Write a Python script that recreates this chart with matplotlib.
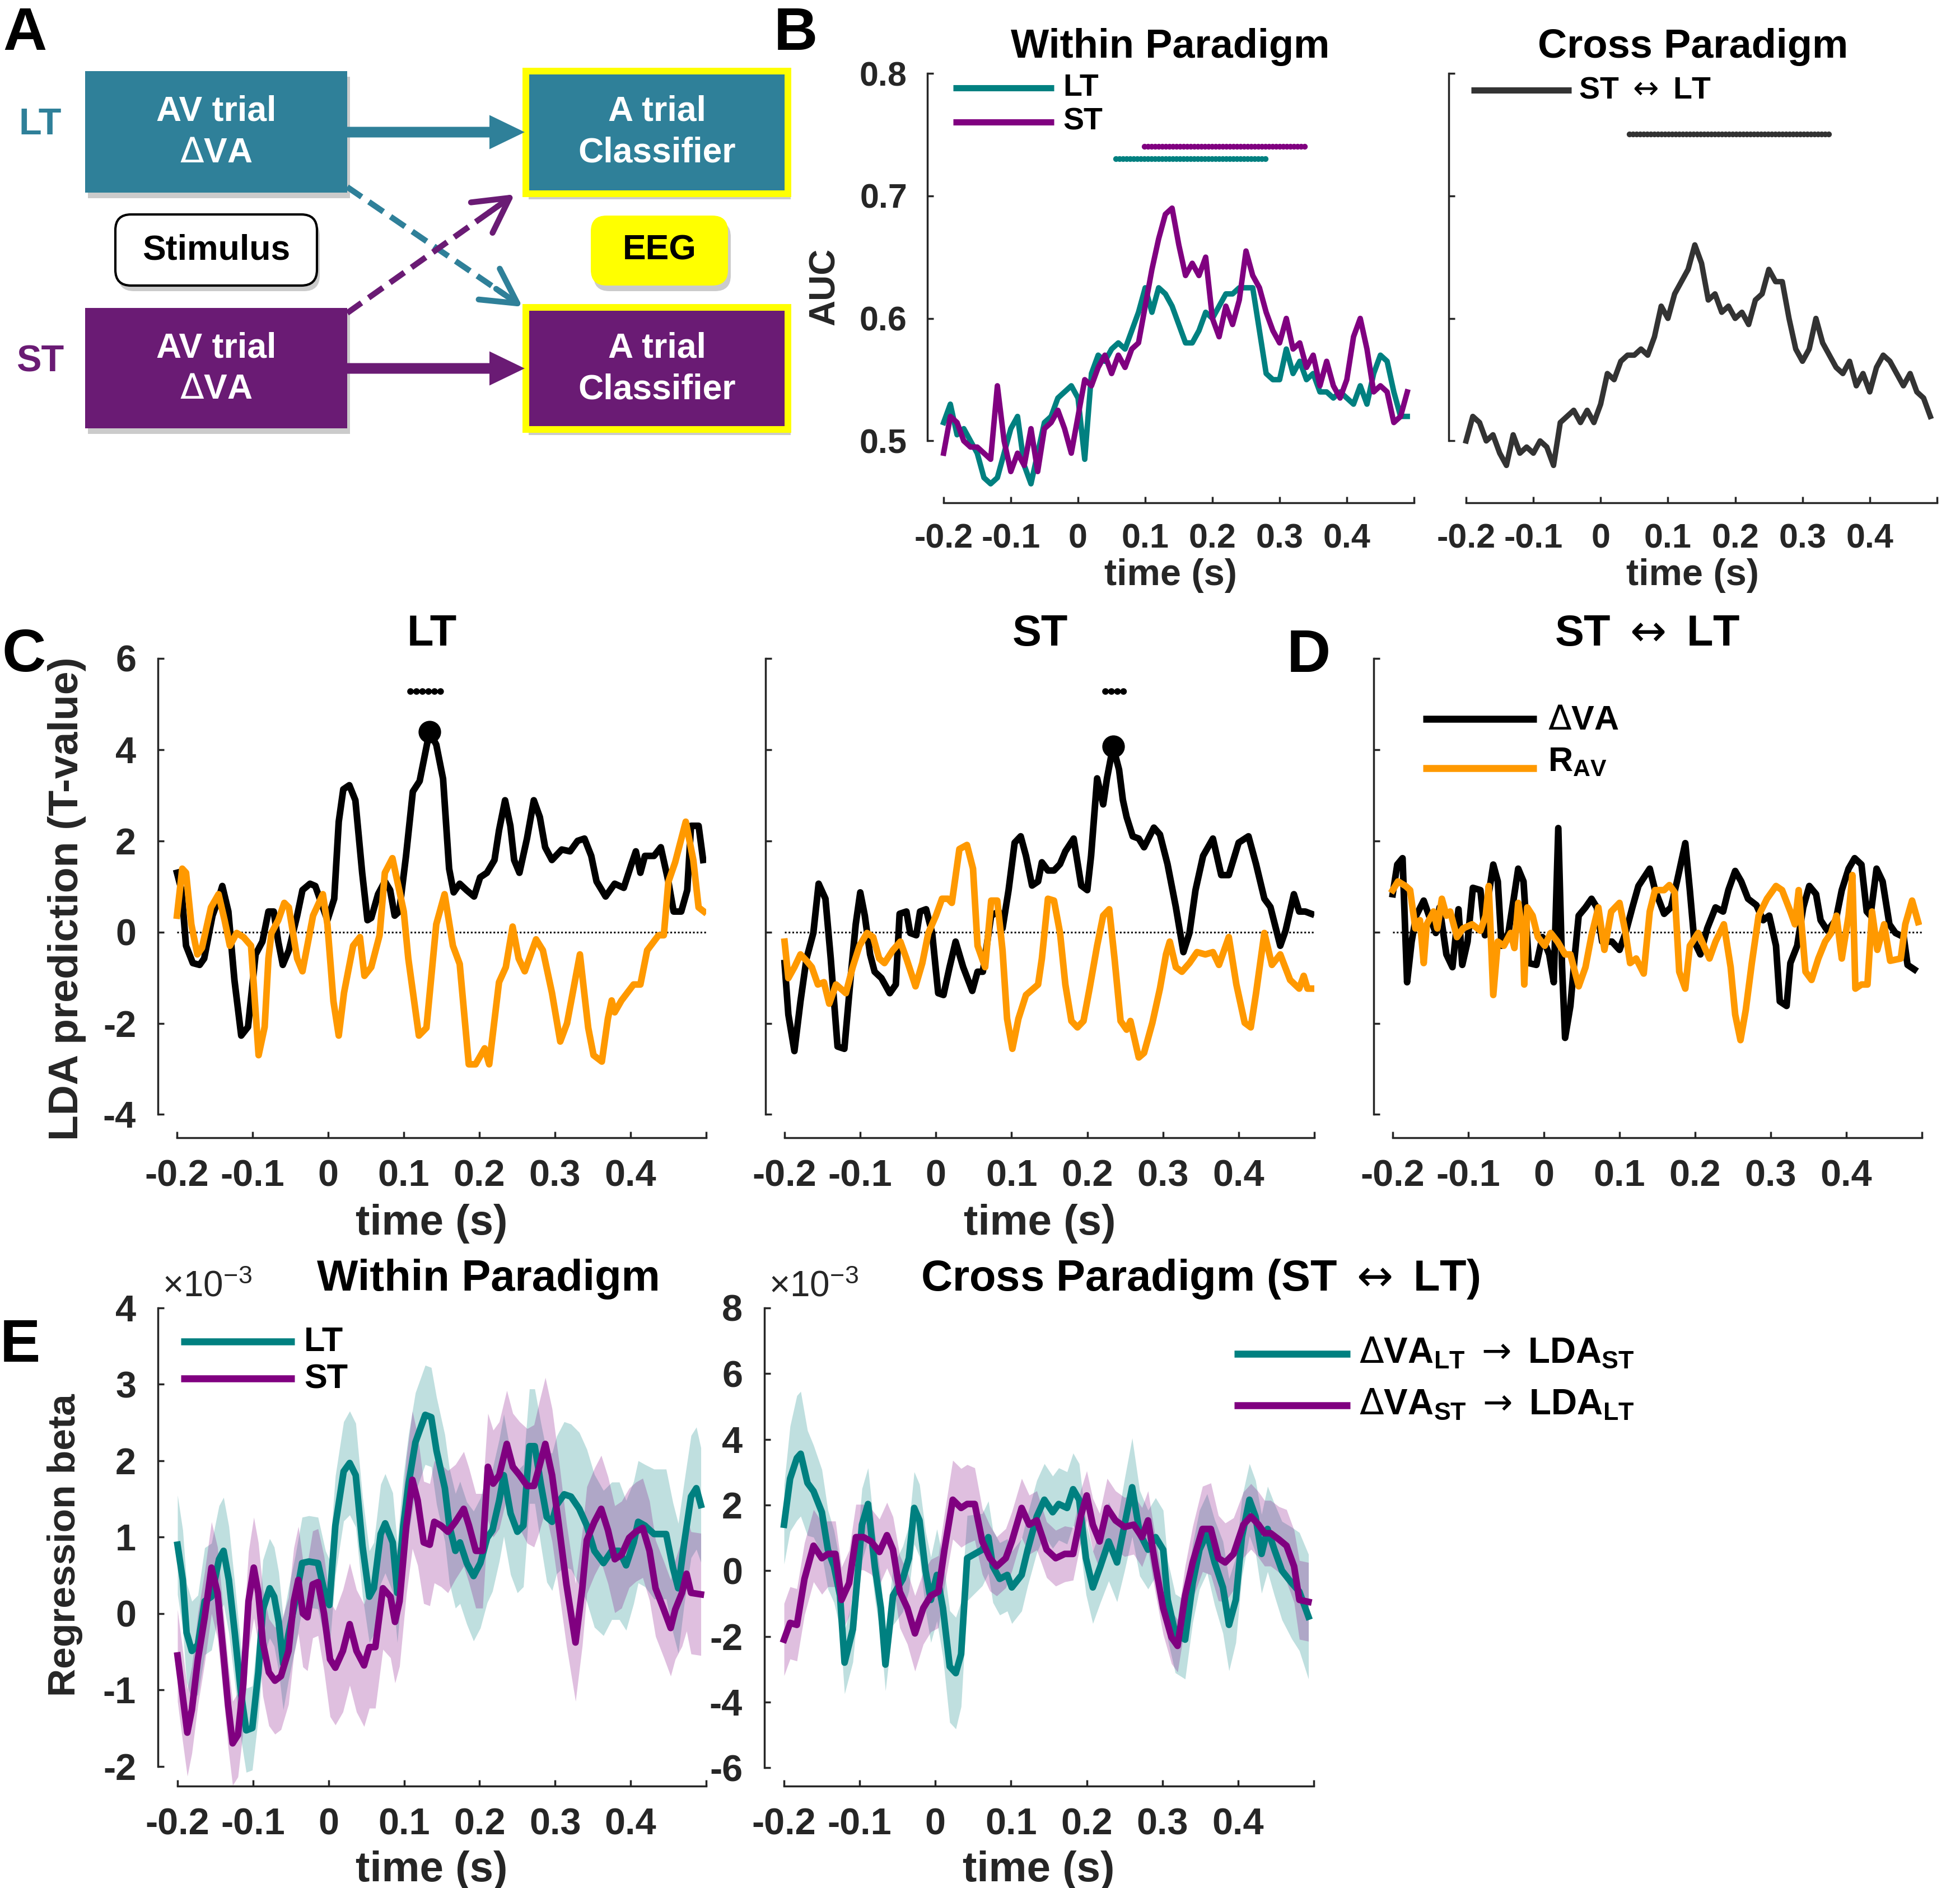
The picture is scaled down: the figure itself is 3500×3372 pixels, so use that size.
import numpy as np
import matplotlib
matplotlib.use("Agg")
import matplotlib.pyplot as plt
from matplotlib.patches import Rectangle, FancyBboxPatch, FancyArrow

plt.rcParams['font.family'] = ['Liberation Sans', 'DejaVu Sans']
plt.rcParams['font.weight'] = 'bold'
plt.rcParams['mathtext.fontset'] = 'custom'
plt.rcParams['mathtext.rm'] = 'Liberation Sans:weight=normal'
plt.rcParams['mathtext.bf'] = 'Liberation Sans:weight=bold'
plt.rcParams['mathtext.it'] = 'Liberation Sans:italic'
plt.rcParams['mathtext.sf'] = 'DejaVu Sans:weight=normal'

# ---------------- data ----------------
# panel B: AUC, sampled every 10 ms from -0.2 s
b_time = np.round(np.arange(-0.2, 0.495, 0.01), 3)
b_auc_lt = [0.515, 0.53, 0.505, 0.51, 0.50, 0.49, 0.47, 0.465, 0.47, 0.49,
            0.51, 0.52, 0.48, 0.465, 0.49, 0.515, 0.52, 0.535, 0.54, 0.545,
            0.535, 0.485, 0.555, 0.57, 0.565, 0.575, 0.58, 0.575, 0.59, 0.605,
            0.625, 0.605, 0.625, 0.62, 0.61, 0.595, 0.58, 0.58, 0.59, 0.605,
            0.60, 0.61, 0.62, 0.62, 0.625, 0.625, 0.625, 0.59, 0.555, 0.55,
            0.55, 0.575, 0.555, 0.565, 0.55, 0.555, 0.54, 0.54, 0.535, 0.54,
            0.535, 0.53, 0.545, 0.53, 0.555, 0.57, 0.565, 0.54, 0.52, 0.52]
b_auc_st = [0.49, 0.52, 0.515, 0.50, 0.495, 0.495, 0.49, 0.485, 0.545, 0.50,
            0.475, 0.49, 0.48, 0.51, 0.475, 0.51, 0.515, 0.525, 0.51, 0.49,
            0.52, 0.55, 0.545, 0.56, 0.57, 0.555, 0.57, 0.56, 0.575, 0.58,
            0.61, 0.64, 0.665, 0.685, 0.69, 0.66, 0.635, 0.645, 0.635, 0.65,
            0.60, 0.585, 0.61, 0.595, 0.615, 0.655, 0.635, 0.625, 0.605, 0.59,
            0.58, 0.60, 0.575, 0.58, 0.56, 0.57, 0.545, 0.565, 0.545, 0.535,
            0.55, 0.585, 0.60, 0.575, 0.54, 0.545, 0.54, 0.515, 0.52, 0.54]
b_auc_cross = [0.50, 0.52, 0.515, 0.50, 0.505, 0.49, 0.48, 0.505, 0.49, 0.495,
               0.49, 0.50, 0.495, 0.48, 0.515, 0.52, 0.525, 0.515, 0.525, 0.515,
               0.53, 0.555, 0.55, 0.565, 0.57, 0.57, 0.575, 0.57, 0.585, 0.61,
               0.60, 0.62, 0.63, 0.64, 0.66, 0.645, 0.615, 0.62, 0.605, 0.61,
               0.60, 0.605, 0.595, 0.615, 0.62, 0.64, 0.63, 0.63, 0.60, 0.575,
               0.565, 0.575, 0.60, 0.58, 0.57, 0.56, 0.555, 0.565, 0.545, 0.555,
               0.54, 0.56, 0.57, 0.565, 0.555, 0.545, 0.555, 0.54, 0.535, 0.52]
b_sig_lt = (0.057, 0.283, 0.73)
b_sig_st = (0.099, 0.342, 0.74)
b_sig_cross = (0.043, 0.340, 0.75)

# panels C, D: LDA prediction (T-value), (time, value)
c_lt_dva = [(-0.200, 1.30), (-0.194, 0.92), (-0.188, -0.30), (-0.179, -0.68), (-0.170, -0.72),
            (-0.164, -0.58), (-0.153, 0.36), (-0.145, 0.73), (-0.140, 1.01), (-0.132, 0.45),
            (-0.124, -1.05), (-0.115, -2.27), (-0.106, -2.08), (-0.096, -0.49), (-0.087, -0.21),
            (-0.079, 0.45), (-0.072, 0.45), (-0.066, -0.21), (-0.060, -0.72), (-0.052, -0.40),
            (-0.041, 0.36), (-0.034, 0.92), (-0.024, 1.06), (-0.017, 1.01), (-0.007, 0.54),
            (-0.001, 0.26), (0.008, 0.73), (0.014, 2.42), (0.020, 3.13), (0.028, 3.22),
            (0.036, 2.89), (0.045, 1.30), (0.052, 0.26), (0.057, 0.31), (0.066, 0.83),
            (0.075, 1.11), (0.082, 0.92), (0.088, 0.36), (0.094, 0.45), (0.103, 1.67),
            (0.112, 3.08), (0.121, 3.31), (0.134, 4.39), (0.143, 4.11), (0.152, 3.36),
            (0.160, 1.39), (0.166, 0.87), (0.174, 1.06), (0.183, 0.92), (0.193, 0.78),
            (0.201, 1.20), (0.210, 1.30), (0.220, 1.58), (0.226, 2.23), (0.234, 2.89),
            (0.241, 2.33), (0.246, 1.58), (0.253, 1.30), (0.263, 2.05), (0.272, 2.89),
            (0.280, 2.52), (0.287, 1.86), (0.296, 1.58), (0.309, 1.81), (0.320, 1.77),
            (0.330, 2.00), (0.339, 2.05), (0.348, 1.67), (0.355, 1.11), (0.367, 0.78),
            (0.379, 1.06), (0.391, 0.97), (0.401, 1.48), (0.407, 1.77), (0.413, 1.30),
            (0.419, 1.67), (0.431, 1.67), (0.440, 1.86), (0.450, 1.11), (0.457, 0.45),
            (0.467, 0.45), (0.475, 0.92), (0.480, 2.33), (0.490, 2.33), (0.496, 1.58)]
c_lt_rav = [(-0.200, 0.36), (-0.193, 1.39), (-0.188, 1.30), (-0.181, 0.17), (-0.173, -0.49),
            (-0.167, -0.35), (-0.155, 0.54), (-0.145, 0.83), (-0.137, 0.26), (-0.130, -0.30),
            (-0.121, -0.02), (-0.112, -0.11), (-0.102, -0.30), (-0.092, -2.70), (-0.084, -2.08),
            (-0.079, -0.58), (-0.075, -0.02), (-0.066, 0.26), (-0.058, 0.64), (-0.052, 0.54),
            (-0.041, -0.58), (-0.034, -0.86), (-0.020, 0.36), (-0.007, 0.83), (-0.001, 0.17),
            (0.007, -1.52), (0.014, -2.27), (0.021, -1.33), (0.033, -0.30), (0.042, -0.11),
            (0.048, -0.96), (0.057, -0.77), (0.068, -0.07), (0.075, 1.30), (0.085, 1.62),
            (0.100, 0.45), (0.106, -0.58), (0.120, -2.27), (0.130, -2.10), (0.143, 0.17),
            (0.154, 0.83), (0.165, -0.30), (0.174, -0.70), (0.186, -2.90), (0.195, -2.90),
            (0.207, -2.55), (0.213, -2.90), (0.226, -1.10), (0.235, -0.77), (0.244, 0.12),
            (0.252, -0.58), (0.260, -0.86), (0.275, -0.16), (0.284, -0.40), (0.296, -1.33),
            (0.307, -2.40), (0.316, -2.00), (0.333, -0.49), (0.344, -2.10), (0.351, -2.70),
            (0.362, -2.84), (0.370, -1.90), (0.375, -1.50), (0.379, -1.76), (0.388, -1.50),
            (0.404, -1.15), (0.413, -1.15), (0.422, -0.40), (0.437, -0.07), (0.444, -0.07),
            (0.450, 1.10), (0.459, 1.53), (0.473, 2.42), (0.483, 1.58), (0.490, 0.54),
            (0.497, 0.45)]
c_st_dva = [(-0.200, -0.68), (-0.195, -1.81), (-0.187, -2.61), (-0.179, -1.52), (-0.171, -0.58),
            (-0.162, -0.02), (-0.155, 1.06), (-0.146, 0.73), (-0.139, -0.58), (-0.130, -2.51),
            (-0.121, -2.56), (-0.112, -0.87), (-0.106, 0.17), (-0.100, 0.87), (-0.094, 0.36),
            (-0.087, -0.49), (-0.081, -0.87), (-0.072, -1.01), (-0.061, -1.34), (-0.053, -1.15),
            (-0.048, 0.40), (-0.039, 0.45), (-0.034, -0.02), (-0.026, -0.07), (-0.021, 0.45),
            (-0.013, 0.50), (-0.005, -0.02), (0.003, -1.34), (0.010, -1.38), (0.018, -0.77),
            (0.026, -0.21), (0.036, -0.77), (0.048, -1.29), (0.055, -0.87), (0.062, -0.87),
            (0.073, 0.36), (0.083, 0.45), (0.088, 0.08), (0.096, 0.92), (0.104, 1.96),
            (0.112, 2.10), (0.119, 1.67), (0.127, 1.02), (0.135, 1.11), (0.140, 1.53),
            (0.148, 1.35), (0.156, 1.35), (0.164, 1.49), (0.171, 1.77), (0.182, 2.05),
            (0.192, 1.02), (0.200, 0.92), (0.205, 1.67), (0.213, 3.37), (0.221, 2.80),
            (0.226, 3.37), (0.234, 4.07), (0.242, 3.56), (0.247, 2.90), (0.252, 2.52),
            (0.260, 2.10), (0.268, 2.05), (0.275, 1.86), (0.288, 2.29), (0.296, 2.14),
            (0.306, 1.49), (0.317, 0.55), (0.327, -0.44), (0.335, -0.02), (0.343, 0.92),
            (0.353, 1.67), (0.366, 2.05), (0.377, 1.25), (0.387, 1.25), (0.400, 1.96),
            (0.413, 2.10), (0.423, 1.49), (0.434, 0.73), (0.442, 0.55), (0.455, -0.30),
            (0.462, 0.03), (0.473, 0.83), (0.480, 0.45), (0.488, 0.45), (0.496, 0.40)]
c_st_rav = [(-0.200, -0.21), (-0.195, -1.01), (-0.187, -0.77), (-0.179, -0.49), (-0.171, -0.63),
            (-0.164, -0.77), (-0.156, -1.15), (-0.148, -1.10), (-0.141, -1.57), (-0.132, -1.15),
            (-0.119, -1.34), (-0.110, -0.77), (-0.101, -0.30), (-0.091, -0.02), (-0.083, -0.11),
            (-0.075, -0.58), (-0.068, -0.68), (-0.057, -0.40), (-0.047, -0.21), (-0.039, -0.58),
            (-0.027, -1.19), (-0.018, -0.68), (-0.010, -0.02), (0.000, 0.36), (0.008, 0.73),
            (0.016, 0.73), (0.021, 0.64), (0.031, 1.82), (0.041, 1.91), (0.049, 1.39),
            (0.055, -0.30), (0.065, -0.77), (0.073, 0.69), (0.081, 0.69), (0.088, -0.40),
            (0.094, -1.90), (0.101, -2.56), (0.109, -1.90), (0.119, -1.38), (0.135, -1.15),
            (0.140, -0.58), (0.148, 0.73), (0.156, 0.69), (0.164, -0.02), (0.171, -1.15),
            (0.179, -1.95), (0.187, -2.09), (0.195, -1.95), (0.203, -1.24), (0.213, -0.30),
            (0.221, 0.36), (0.229, 0.50), (0.236, -0.58), (0.244, -1.95), (0.252, -2.14),
            (0.257, -1.95), (0.268, -2.75), (0.275, -2.65), (0.286, -1.99), (0.296, -1.24),
            (0.304, -0.49), (0.309, -0.21), (0.317, -0.77), (0.325, -0.87), (0.335, -0.68),
            (0.345, -0.44), (0.356, -0.49), (0.366, -0.44), (0.374, -0.72), (0.387, -0.11),
            (0.397, -1.15), (0.408, -1.99), (0.416, -2.09), (0.423, -1.34), (0.434, -0.02),
            (0.444, -0.72), (0.455, -0.49), (0.468, -1.05), (0.480, -1.24), (0.486, -0.96),
            (0.491, -1.24), (0.498, -1.24)]
d_dva = [(-0.200, 0.83), (-0.194, 1.48), (-0.187, 1.62), (-0.181, -1.10), (-0.175, -0.21),
         (-0.169, 0.36), (-0.159, 0.69), (-0.152, 0.36), (-0.143, -0.02), (-0.138, 0.54),
         (-0.129, -0.49), (-0.121, -0.77), (-0.113, 0.50), (-0.108, -0.72), (-0.101, -0.21),
         (-0.094, 0.97), (-0.084, 0.92), (-0.078, -0.07), (-0.073, 0.83), (-0.067, 1.48),
         (-0.061, 1.11), (-0.056, -0.30), (-0.047, -0.02), (-0.040, 0.73), (-0.034, 1.39),
         (-0.027, 1.11), (-0.020, -0.68), (-0.010, -0.72), (-0.002, -0.11), (0.007, -0.49),
         (0.013, -1.10), (0.019, 2.28), (0.024, -0.77), (0.028, -2.32), (0.035, -1.62),
         (0.041, -0.49), (0.046, 0.36), (0.055, 0.54), (0.063, 0.73), (0.070, 0.54),
         (0.077, -0.21), (0.090, -0.21), (0.100, -0.39), (0.108, -0.02), (0.117, 0.54),
         (0.125, 1.01), (0.140, 1.39), (0.147, 0.92), (0.159, 0.40), (0.168, 0.54),
         (0.176, 1.11), (0.187, 1.95), (0.193, 0.92), (0.199, -0.21), (0.207, -0.49),
         (0.216, 0.08), (0.227, 0.54), (0.237, 0.45), (0.244, 0.92), (0.253, 1.34),
         (0.261, 1.11), (0.270, 0.73), (0.281, 0.59), (0.290, 0.26), (0.298, 0.36),
         (0.307, -0.30), (0.312, -1.52), (0.321, -1.62), (0.326, -0.68), (0.335, -0.30),
         (0.343, 0.54), (0.351, 1.01), (0.360, 0.83), (0.366, 0.26), (0.375, 0.03),
         (0.386, 0.26), (0.394, 0.92), (0.403, 1.39), (0.411, 1.62), (0.420, 1.48),
         (0.427, 0.45), (0.432, 0.36), (0.440, 1.39), (0.448, 1.11), (0.457, 0.17),
         (0.465, -0.02), (0.476, -0.11), (0.481, -0.72), (0.490, -0.82)]
d_rav = [(-0.200, 0.92), (-0.193, 1.11), (-0.183, 1.01), (-0.177, 0.92), (-0.170, 0.08),
         (-0.164, 0.26), (-0.159, -0.68), (-0.155, 0.17), (-0.146, 0.45), (-0.141, 0.08),
         (-0.135, 0.73), (-0.129, 0.36), (-0.124, 0.45), (-0.115, -0.11), (-0.107, 0.08),
         (-0.095, 0.17), (-0.084, 0.03), (-0.077, 0.36), (-0.073, 1.01), (-0.067, -1.38),
         (-0.061, -0.21), (-0.053, -0.30), (-0.044, -0.02), (-0.039, -0.35), (-0.034, 0.64),
         (-0.028, -0.02), (-0.026, -1.15), (-0.022, 0.54), (-0.015, 0.36), (-0.008, -0.11),
         (0.001, -0.30), (0.009, -0.02), (0.018, -0.21), (0.028, -0.49), (0.035, -0.49),
         (0.046, -1.19), (0.055, -0.77), (0.063, -0.07), (0.072, 0.54), (0.080, -0.39),
         (0.089, 0.45), (0.100, 0.64), (0.108, -0.02), (0.114, -0.68), (0.122, -0.58),
         (0.132, -0.91), (0.140, 0.45), (0.147, 0.92), (0.159, 0.92), (0.166, 1.03),
         (0.173, 0.87), (0.179, -0.87), (0.187, -1.24), (0.193, -0.30), (0.204, -0.02),
         (0.219, -0.58), (0.227, -0.21), (0.238, 0.17), (0.247, -0.77), (0.253, -1.81),
         (0.260, -2.37), (0.267, -1.71), (0.275, -0.68), (0.284, 0.36), (0.295, 0.73),
         (0.307, 1.01), (0.315, 0.92), (0.326, 0.45), (0.332, 0.17), (0.337, 0.92),
         (0.346, -0.87), (0.354, -1.05), (0.363, -0.58), (0.372, -0.21), (0.380, -0.02),
         (0.387, 0.36), (0.394, -0.58), (0.403, 0.36), (0.408, 1.25), (0.412, -1.24),
         (0.420, -1.15), (0.428, -1.15), (0.434, 0.45), (0.441, -0.39), (0.450, 0.17),
         (0.458, -0.63), (0.472, -0.58), (0.478, 0.17), (0.487, 0.69), (0.495, 0.22)]
c_sig_lt = (0.109, 0.151, 5.27)
c_sig_st = (0.224, 0.250, 5.27)

# panel E: regression beta (x1e-3), (time, mean, sem)
e_within_lt = [(-0.200, 0.90, 0.65), (-0.193, 0.44, 0.65), (-0.188, -0.25, 0.65), (-0.181, -0.49, 0.65),
               (-0.173, -0.41, 0.65), (-0.164, 0.16, 0.7), (-0.155, 0.22, 0.7), (-0.145, 0.71, 0.7),
               (-0.139, 0.82, 0.7), (-0.132, 0.44, 0.7), (-0.124, -0.27, 0.65), (-0.116, -1.04, 0.6),
               (-0.109, -1.53, 0.55), (-0.101, -1.50, 0.55), (-0.093, -0.77, 0.6), (-0.087, 0.05, 0.65),
               (-0.078, 0.33, 0.65), (-0.072, 0.22, 0.65), (-0.066, -0.11, 0.65), (-0.060, -0.66, 0.6),
               (-0.053, -0.27, 0.6), (-0.044, 0.16, 0.6), (-0.035, 0.66, 0.6), (-0.026, 0.68, 0.6),
               (-0.014, 0.66, 0.6), (-0.004, 0.22, 0.6), (0.001, 0.11, 0.6), (0.009, 1.15, 0.65),
               (0.020, 1.86, 0.65), (0.028, 1.97, 0.68), (0.036, 1.81, 0.68), (0.045, 0.88, 0.65),
               (0.054, 0.22, 0.6), (0.060, 0.33, 0.6), (0.069, 1.04, 0.65), (0.075, 1.18, 0.65),
               (0.085, 0.93, 0.65), (0.091, 0.27, 0.65), (0.099, 1.15, 0.65), (0.106, 1.70, 0.65),
               (0.115, 2.24, 0.65), (0.128, 2.60, 0.65), (0.136, 2.57, 0.65), (0.143, 2.13, 0.7),
               (0.154, 1.64, 0.7), (0.160, 1.15, 0.75), (0.168, 0.82, 0.75), (0.174, 0.93, 0.8),
               (0.183, 0.66, 0.8), (0.192, 0.49, 0.85), (0.201, 0.66, 0.85), (0.210, 0.99, 0.85),
               (0.217, 1.09, 0.8), (0.226, 1.48, 0.8), (0.232, 1.81, 0.8), (0.241, 1.31, 0.8),
               (0.250, 1.07, 0.8), (0.258, 1.15, 0.8), (0.266, 2.19, 0.75), (0.273, 2.19, 0.75),
               (0.281, 1.70, 0.8), (0.289, 1.26, 0.85), (0.296, 1.20, 0.9), (0.302, 1.42, 0.9),
               (0.312, 1.56, 0.95), (0.321, 1.53, 0.95), (0.332, 1.37, 1.0), (0.342, 1.15, 1.0),
               (0.352, 0.82, 1.0), (0.364, 0.66, 0.95), (0.375, 0.82, 0.9), (0.385, 0.82, 0.9),
               (0.394, 0.63, 0.85), (0.404, 0.93, 0.8), (0.410, 1.20, 0.8), (0.419, 1.15, 0.8),
               (0.431, 1.04, 0.85), (0.447, 1.04, 0.85), (0.456, 0.60, 0.85), (0.463, 0.33, 0.85),
               (0.471, 0.93, 0.8), (0.480, 1.53, 0.8), (0.487, 1.64, 0.8), (0.493, 1.42, 0.75)]
e_within_st = [(-0.200, -0.55, 0.6), (-0.193, -1.09, 0.6), (-0.187, -1.56, 0.57), (-0.181, -1.26, 0.57),
               (-0.173, -0.60, 0.6), (-0.164, -0.05, 0.6), (-0.155, 0.60, 0.6), (-0.147, 0.27, 0.6),
               (-0.139, -0.55, 0.55), (-0.133, -1.20, 0.55), (-0.127, -1.70, 0.55), (-0.120, -1.59, 0.55),
               (-0.113, -0.93, 0.6), (-0.106, 0.16, 0.65), (-0.099, 0.60, 0.66), (-0.093, 0.27, 0.66),
               (-0.087, -0.38, 0.7), (-0.079, -0.77, 0.7), (-0.071, -0.88, 0.7), (-0.063, -0.82, 0.7),
               (-0.053, -0.49, 0.7), (-0.046, 0.16, 0.7), (-0.040, 0.44, 0.7), (-0.034, 0.00, 0.7),
               (-0.028, -0.05, 0.7), (-0.021, 0.38, 0.7), (-0.014, 0.41, 0.7), (-0.006, 0.00, 0.75),
               (0.002, -0.60, 0.75), (0.009, -0.71, 0.75), (0.019, -0.49, 0.8), (0.028, -0.14, 0.8),
               (0.037, -0.49, 0.8), (0.047, -0.68, 0.8), (0.054, -0.44, 0.8), (0.062, -0.44, 0.8),
               (0.072, 0.33, 0.8), (0.082, 0.22, 0.8), (0.088, -0.11, 0.8), (0.094, 0.16, 0.85),
               (0.103, 1.15, 0.9), (0.111, 1.75, 0.9), (0.118, 1.48, 0.85), (0.126, 0.93, 0.8),
               (0.134, 0.90, 0.8), (0.140, 1.20, 0.8), (0.149, 1.15, 0.8), (0.158, 1.07, 0.8),
               (0.168, 1.20, 0.75), (0.179, 1.37, 0.75), (0.186, 1.15, 0.75), (0.195, 0.82, 0.75),
               (0.204, 0.82, 0.75), (0.211, 1.92, 0.7), (0.218, 1.70, 0.7), (0.226, 1.81, 0.7),
               (0.236, 2.22, 0.7), (0.244, 1.92, 0.7), (0.253, 1.81, 0.7), (0.263, 1.67, 0.75),
               (0.272, 1.67, 0.8), (0.279, 1.92, 0.85), (0.287, 2.22, 0.87), (0.296, 1.81, 0.87),
               (0.305, 1.15, 0.85), (0.315, 0.38, 0.8), (0.327, -0.38, 0.77), (0.336, 0.33, 0.75),
               (0.342, 0.96, 0.7), (0.352, 1.20, 0.7), (0.361, 1.37, 0.7), (0.370, 1.09, 0.7),
               (0.379, 0.71, 0.7), (0.388, 0.77, 0.7), (0.398, 0.99, 0.65), (0.407, 1.07, 0.65),
               (0.416, 1.12, 0.65), (0.425, 0.82, 0.65), (0.433, 0.33, 0.63), (0.444, 0.05, 0.63),
               (0.453, -0.19, 0.63), (0.459, 0.05, 0.65), (0.468, 0.27, 0.7), (0.474, 0.52, 0.75),
               (0.480, 0.27, 0.8), (0.493, 0.25, 0.8)]
e_cross_lt = [(-0.200, 1.40, 1.2), (-0.192, 2.80, 1.6), (-0.183, 3.43, 1.9), (-0.178, 3.56, 1.9),
              (-0.169, 2.67, 1.6), (-0.161, 2.42, 1.4), (-0.150, 1.78, 1.3), (-0.142, 0.64, 1.2),
              (-0.134, 0.13, 1.1), (-0.126, -0.76, 1.0), (-0.120, -2.80, 0.95), (-0.109, -1.78, 1.0),
              (-0.097, 1.40, 1.1), (-0.089, 2.03, 1.1), (-0.080, 0.13, 1.0), (-0.072, -1.14, 0.9),
              (-0.066, -2.86, 0.8), (-0.056, -0.76, 0.9), (-0.043, -0.25, 1.0), (-0.035, 0.38, 1.0),
              (-0.028, 1.91, 1.1), (-0.021, 1.53, 1.1), (-0.013, 0.00, 1.2), (-0.006, -0.89, 1.3),
              (0.002, -0.13, 1.4), (0.010, -1.14, 1.5), (0.019, -2.92, 1.7), (0.027, -3.12, 1.7),
              (0.034, -2.54, 1.6), (0.042, 0.38, 1.3), (0.052, 0.51, 1.2), (0.062, 0.64, 1.1),
              (0.070, 1.02, 1.1), (0.076, 0.13, 1.1), (0.085, -0.25, 1.1), (0.095, -0.13, 1.1),
              (0.101, -0.51, 1.1), (0.114, -0.13, 1.1), (0.122, 0.64, 1.1), (0.134, 1.65, 1.1),
              (0.144, 2.16, 1.1), (0.155, 1.78, 1.1), (0.163, 2.03, 1.1), (0.174, 1.91, 1.1),
              (0.182, 2.48, 1.1), (0.190, 2.16, 1.1), (0.199, 0.38, 1.1), (0.208, -0.51, 1.1),
              (0.218, 0.13, 1.1), (0.229, 0.89, 1.2), (0.240, 0.25, 1.2), (0.250, 1.40, 1.4),
              (0.260, 2.54, 1.5), (0.270, 1.14, 1.3), (0.281, 0.64, 1.2), (0.291, 1.02, 1.2),
              (0.301, 0.64, 1.2), (0.307, -0.89, 1.2), (0.317, -1.91, 1.2), (0.330, -2.10, 1.2),
              (0.340, -0.38, 1.2), (0.349, 0.64, 1.2), (0.359, 1.14, 1.2), (0.369, 0.25, 1.3),
              (0.380, -0.51, 1.4), (0.388, -1.65, 1.4), (0.397, -0.89, 1.3), (0.405, 1.02, 1.2),
              (0.415, 2.16, 1.1), (0.423, 1.65, 1.1), (0.431, 0.51, 1.2), (0.439, 1.27, 1.3),
              (0.448, 0.64, 1.4), (0.458, 0.00, 1.5), (0.471, -0.38, 1.7), (0.481, -0.64, 1.8),
              (0.493, -1.40, 1.9)]
e_cross_st = [(-0.200, -2.10, 1.1), (-0.192, -1.59, 1.1), (-0.183, -1.65, 1.1), (-0.173, -0.25, 1.1),
              (-0.161, 0.76, 1.1), (-0.150, 0.38, 1.1), (-0.142, 0.51, 1.0), (-0.132, 0.51, 1.0),
              (-0.124, -0.89, 1.0), (-0.114, -0.38, 1.0), (-0.105, 1.02, 1.0), (-0.095, 1.02, 1.0),
              (-0.085, 0.89, 1.0), (-0.074, 0.57, 1.0), (-0.064, 1.08, 1.0), (-0.056, 0.64, 1.0),
              (-0.047, -0.64, 1.1), (-0.037, -1.14, 1.1), (-0.027, -1.91, 1.15), (-0.016, -1.14, 1.1),
              (-0.006, -0.76, 1.1), (0.004, -0.64, 1.1), (0.012, 0.64, 1.1), (0.023, 2.16, 1.2),
              (0.034, 1.91, 1.2), (0.042, 2.03, 1.2), (0.052, 2.03, 1.1), (0.062, 0.89, 1.0),
              (0.072, 0.38, 1.0), (0.081, 0.13, 0.9), (0.093, 0.38, 0.9), (0.101, 0.89, 0.9),
              (0.114, 1.91, 0.9), (0.124, 1.40, 0.9), (0.134, 1.53, 0.9), (0.147, 0.64, 0.85),
              (0.159, 0.38, 0.85), (0.171, 0.51, 0.85), (0.182, 0.51, 0.8), (0.192, 1.65, 0.8),
              (0.200, 2.29, 0.75), (0.208, 1.40, 0.8), (0.217, 0.89, 0.85), (0.227, 1.91, 0.9),
              (0.238, 1.53, 0.9), (0.250, 1.33, 0.9), (0.262, 1.40, 0.9), (0.273, 1.02, 0.9),
              (0.281, 1.53, 0.9), (0.291, 0.13, 0.85), (0.301, -1.14, 0.8), (0.312, -2.03, 0.8),
              (0.320, -2.29, 0.8), (0.330, -0.76, 0.9), (0.340, 0.25, 1.1), (0.353, 1.27, 1.3),
              (0.364, 1.27, 1.4), (0.374, 0.38, 1.3), (0.383, 0.25, 1.2), (0.394, 0.51, 1.1),
              (0.407, 1.40, 1.0), (0.417, 1.65, 1.0), (0.427, 1.40, 1.0), (0.435, 1.14, 1.0),
              (0.443, 1.14, 1.0), (0.454, 0.95, 1.0), (0.464, 0.76, 1.1), (0.474, 0.13, 1.1),
              (0.481, -0.89, 1.2), (0.493, -0.95, 1.2)]

x_ticks = [-0.2, -0.1, 0, 0.1, 0.2, 0.3, 0.4, 0.5]
x_ticklabels = ['-0.2', '-0.1', '0', '0.1', '0.2', '0.3', '0.4', '']

# ---------------- style ----------------
TEAL_A = '#2F8099'
PURPLE_A = '#6A1B74'
TEAL = '#008080'
PURPLE = '#800080'
ORANGE = '#FF9900'
DARK = '#333333'
AXC = '#262626'
ARROW_LR = r'$\mathsf{\leftrightarrow}$'
ARROW_R = r'$\mathsf{\rightarrow}$'
DELTA = r'$\mathsf{\Delta}$'

W, H = 3500, 3372
fig = plt.figure(figsize=(W / 100, H / 100), dpi=100)


def add_ax(l, t, r, b):
    return fig.add_axes([l / W, 1 - b / H, (r - l) / W, (b - t) / H])


def style(ax, xleft, ylim, yticks, ylabels, fs):
    ax.set_xlim(xleft, 0.5)
    ax.set_ylim(*ylim)
    ax.spines['top'].set_visible(False)
    ax.spines['right'].set_visible(False)
    ax.spines['left'].set_bounds(yticks[0], yticks[-1])
    ax.spines['bottom'].set_bounds(-0.2, 0.5)
    for s in ('left', 'bottom'):
        ax.spines[s].set_color(AXC)
        ax.spines[s].set_linewidth(2.5)
    ax.set_xticks(x_ticks)
    ax.set_xticklabels(x_ticklabels)
    ax.set_yticks(yticks)
    ax.set_yticklabels(ylabels)
    ax.tick_params(direction='in', length=8, width=2.5, color=AXC, labelcolor=AXC,
                   labelsize=fs, pad=28)
    ax.patch.set_alpha(0)


def sig_bar(ax, bar, color, lw, gap=0.9):
    ax.plot([bar[0], bar[1]], [bar[2], bar[2]], color=color, lw=lw,
            ls=(0, (0.01, gap)), dash_capstyle='round')


def tv(series):
    arr = np.array(series)
    return [arr[:, i] for i in range(arr.shape[1])]


# ---- panel B ----
axb1 = add_ax(1656, 131, 2525, 898)
axb1.plot(b_time, b_auc_lt, color=TEAL, lw=7)
axb1.plot(b_time, b_auc_st, color=PURPLE, lw=7)
sig_bar(axb1, b_sig_lt, TEAL, 7.5, 0.6)
sig_bar(axb1, b_sig_st, PURPLE, 7.5, 0.6)
style(axb1, -0.2242, (0.4495, 0.8), [0.5, 0.6, 0.7, 0.8], ['0.5', '0.6', '0.7', '0.8'], 44)
axb1.tick_params(pad=26)

axb2 = add_ax(2587, 131, 3459, 898)
axb2.plot(b_time, b_auc_cross, color=DARK, lw=7)
sig_bar(axb2, b_sig_cross, DARK, 7.5, 0.6)
style(axb2, -0.2258, (0.4495, 0.8), [0.5, 0.6, 0.7, 0.8], [], 44)
axb2.tick_params(pad=26)

# ---- panels C, D ----
c_yt = [-4, -2, 0, 2, 4, 6]
for (l, r, dva, rav, sig, labels) in [
        (282, 1261, c_lt_dva, c_lt_rav, c_sig_lt, [str(v) for v in c_yt]),
        (1367, 2347, c_st_dva, c_st_rav, c_sig_st, []),
        (2453, 3432, d_dva, d_rav, None, [])]:
    ax = add_ax(l, 1176, r, 2032)
    ax.plot([-0.2, 0.5], [0, 0], color='k', lw=2.2, ls=(0, (1, 1.2)))
    t, v = tv(dva)
    ax.plot(t, v, color='k', lw=8.5)
    t2, v2 = tv(rav)
    ax.plot(t2, v2, color=ORANGE, lw=8.5)
    if sig is not None:
        i = int(np.argmax(v))
        ax.plot(t[i], v[i], 'o', color='k', ms=28)
        sig_bar(ax, sig, 'k', 8.5)
    style(ax, -0.2 - (34 / 1350), (-4.51, 6), c_yt, labels, 48)

# ---- panel E ----
for (l, r, lt, st, ylim, yt) in [
        (282, 1261, e_within_lt, e_within_st, (-2.26, 4), [-2, -1, 0, 1, 2, 3, 4]),
        (1365, 2346, e_cross_lt, e_cross_st, (-6.56, 8), [-6, -4, -2, 0, 2, 4, 6, 8])]:
    ax = add_ax(l, 2336, r, 3190)
    for series, col in [(lt, TEAL), (st, PURPLE)]:
        t, m, s = tv(series)
        ax.fill_between(t, m - s, m + s, color=col, alpha=0.25, lw=0)
    for series, col in [(lt, TEAL), (st, PURPLE)]:
        t, m, s = tv(series)
        ax.plot(t, m, color=col, lw=8.5)
    style(ax, -0.2 - (35 / 1350), ylim, yt, [str(v) for v in yt], 48)

# ---- overlay canvas in pixel coordinates: panel A, titles, labels, legends ----
cv = fig.add_axes([0, 0, 1, 1], zorder=10)
cv.set_xlim(0, W)
cv.set_ylim(H, 0)
cv.axis('off')
cv.patch.set_visible(False)


def txt(x, y, s, fs, **kw):
    kw.setdefault('ha', 'center')
    kw.setdefault('va', 'baseline')
    cv.text(x, y, s, fontsize=fs, **kw)


def rect(l, t, r, b, fc, ec='none', lw=0):
    cv.add_patch(Rectangle((l + 5, t + 10), r - l, b - t, fc='#8c8c8c', ec='none', alpha=0.45))
    cv.add_patch(Rectangle((l, t), r - l, b - t, fc=fc, ec=ec, lw=lw))


def rbox(l, t, r, b, fc, ec='none', lw=0):
    cv.add_patch(FancyBboxPatch((l + 5, t + 10), r - l, b - t, boxstyle='round,pad=0,rounding_size=28',
                                fc='#8c8c8c', ec='none', alpha=0.45))
    cv.add_patch(FancyBboxPatch((l, t), r - l, b - t, boxstyle='round,pad=0,rounding_size=28',
                                fc=fc, ec=ec, lw=lw))


# panel A
rect(152, 127, 620, 344, TEAL_A)
rect(152, 550, 620, 765, PURPLE_A)
rect(939, 127, 1407, 346, TEAL_A, ec='#FFFF00', lw=8.6)
rect(939, 549, 1407, 767, PURPLE_A, ec='#FFFF00', lw=8.6)
rbox(206, 383, 566, 510, 'white', ec='black', lw=3)
rbox(1055, 385, 1300, 510, '#FFFF00')

cv.add_patch(FancyArrow(620, 236, 317, 0, width=19, head_width=61, head_length=63,
                        length_includes_head=True, color=TEAL_A, lw=0))
cv.add_patch(FancyArrow(620, 658, 317, 0, width=19, head_width=61, head_length=63,
                        length_includes_head=True, color=PURPLE_A, lw=0))
for (x0, y0, x1, y1, col) in [(620, 334, 933, 548, TEAL_A), (620, 559, 919, 347, PURPLE_A)]:
    f = 0.9
    cv.plot([x0, x0 + f * (x1 - x0)], [y0, y0 + f * (y1 - y0)], color=col, lw=7.5,
            ls=(0, (3, 1.5)))
    cv.annotate('', xy=(x1, y1), xytext=(x0 + 0.85 * (x1 - x0), y0 + 0.85 * (y1 - y0)),
                arrowprops=dict(arrowstyle='->,head_length=1.1,head_width=0.6',
                                color=col, lw=7.5, mutation_scale=40, shrinkA=0, shrinkB=0))

for y0 in (0, 423):
    txt(386, 199 + y0, 'AV trial', 45, color='white', va='center')
    txt(386, 273 + y0, DELTA + 'VA', 45, color='white', va='center')
    txt(1173, 199 + y0, 'A trial', 45, color='white', va='center')
    txt(1173, 273 + y0, 'Classifier', 45, color='white', va='center')
txt(386, 447, 'Stimulus', 45, color='black', va='center')
txt(1178, 447, 'EEG', 45, color='black', va='center')
txt(72, 223, 'LT', 48, color=TEAL_A, va='center')
txt(72, 647, 'ST', 48, color=PURPLE_A, va='center')

# panel letters
for (x, y, s) in [(5, 89, 'A'), (1382, 89, 'B'), (4, 1199, 'C'), (2298, 1200, 'D'), (0, 2432, 'E')]:
    txt(x, y, s, 78, ha='left')

# titles
txt(2090, 103, 'Within Paradigm', 52)
txt(3023, 103, 'Cross Paradigm', 52)
txt(771, 1153, 'LT', 56)
txt(1857, 1153, 'ST', 56)
txt(2942, 1153, 'ST ' + ARROW_LR + ' LT', 56)
txt(872, 2305, 'Within Paradigm', 56)
txt(2143, 2305, 'Cross Paradigm (ST ' + ARROW_LR + ' LT)', 56)
txt(290, 2316, r'$\mathrm{\times 10^{-3}}$', 46, ha='left', color=AXC)
txt(1373, 2316, r'$\mathrm{\times 10^{-3}}$', 46, ha='left', color=AXC)

# axis labels
for x in (2090, 3023):
    txt(x, 1045, 'time (s)', 48, color=AXC)
for x in (771, 1857):
    txt(x, 2205, 'time (s)', 55, color=AXC)
for x in (771, 1855):
    txt(x, 3360, 'time (s)', 55, color=AXC)
txt(1473, 512, 'AUC', 46, rotation=90, va='center', color=AXC)
txt(120, 1605, 'LDA prediction (T-value)', 54, rotation=90, va='center', color=AXC)
txt(116, 2760, 'Regression beta', 50, rotation=90, va='center', color=AXC)


# legends
def leg(x0, x1, y, col, lw, label, tx, ty, fs):
    cv.plot([x0, x1], [y, y], color=col, lw=lw, solid_capstyle='butt')
    txt(tx, ty, label, fs, ha='left')


leg(1702, 1882, 157, TEAL, 8, 'LT', 1898, 171, 40)
leg(1702, 1882, 218, PURPLE, 8, 'ST', 1898, 232, 40)
leg(2627, 2806, 161, DARK, 8, 'ST ' + ARROW_LR + ' LT', 2819, 176, 40)
leg(2541, 2744, 1284, 'k', 9, DELTA + 'VA', 2764, 1303, 44)
leg(2541, 2744, 1372, ORANGE, 9, r'R$_{\mathbf{AV}}$', 2764, 1377, 44)
leg(323, 526, 2396, TEAL, 9, 'LT', 543, 2413, 44)
leg(323, 526, 2462, PURPLE, 9, 'ST', 543, 2480, 44)
leg(2204, 2411, 2418, TEAL, 9, DELTA + r'VA$_{\mathbf{LT}}$ ' + ARROW_R + r' LDA$_{\mathbf{ST}}$',
    2427, 2434, 46)
leg(2204, 2411, 2510, PURPLE, 9, DELTA + r'VA$_{\mathbf{ST}}$ ' + ARROW_R + r' LDA$_{\mathbf{LT}}$',
    2427, 2526, 46)

fig.savefig('out.png', dpi=100)
